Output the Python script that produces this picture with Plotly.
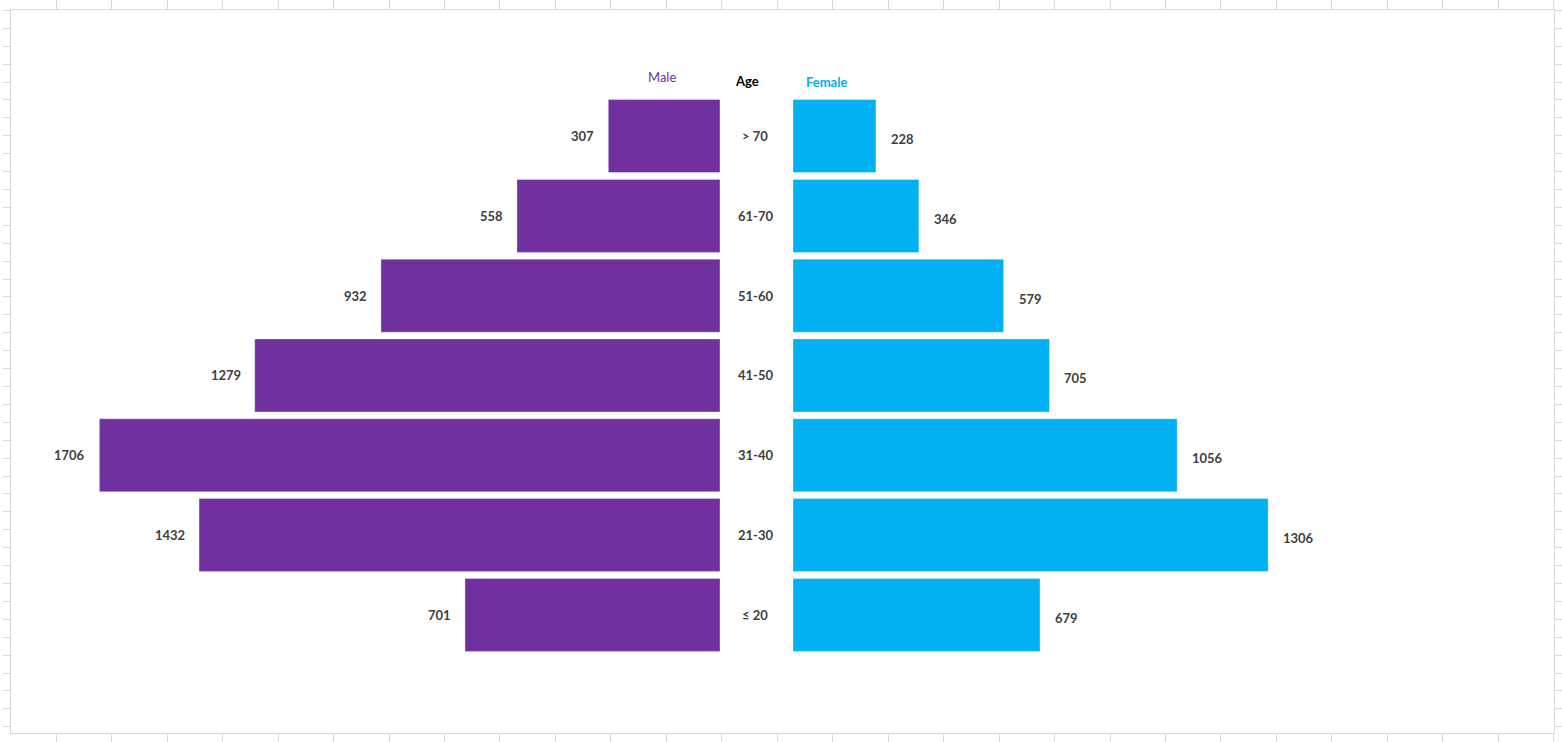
import plotly.graph_objects as go

ages = ["≤ 20", "21-30", "31-40", "41-50", "51-60", "61-70", "> 70"]
male = [701, 1432, 1706, 1279, 932, 558, 307]
female = [679, 1306, 1056, 705, 579, 346, 228]

PURPLE = "#7030A0"
BLUE = "#00B0F0"
TEXT = "#404040"
GRID = "#d9d9d9"
FONT = "Lato"

W, H = 1562, 742
ML, MR, MT, MB = 11, 8, 10, 9
PW = W - ML - MR
PH = H - MT - MB

def px_x(p):
    return (p - ML) / PW

def px_y(p):
    return (H - MB - p) / PH

scale = 0.3638  # px per unit
male_zero = 720
female_zero = 793

fig = go.Figure()

fig.add_trace(go.Scatter(x=[None], y=[None], xaxis="x", yaxis="y",
                         showlegend=False, hoverinfo="skip"))

fig.add_trace(go.Bar(y=ages, x=male, orientation="h", xaxis="x2", yaxis="y2",
                     marker=dict(color=PURPLE, line=dict(color="rgba(255,255,255,0.35)", width=1)),
                     showlegend=False, name="Male"))
fig.add_trace(go.Bar(y=ages, x=female, orientation="h", xaxis="x3", yaxis="y2",
                     marker=dict(color=BLUE, line=dict(color="rgba(255,255,255,0.35)", width=1)),
                     showlegend=False, name="Female"))

annotations = []
for a, m, f in zip(ages, male, female):
    annotations.append(dict(x=m, y=a, xref="x2", yref="y2", text=str(m), showarrow=False,
                            xanchor="right", xshift=-12, yanchor="middle",
                            font=dict(family=FONT, size=13, color=TEXT, weight="bold")))
    annotations.append(dict(x=f, y=a, xref="x3", yref="y2", text=str(f), showarrow=False,
                            xanchor="left", xshift=13, yshift=-3, yanchor="middle",
                            font=dict(family=FONT, size=13, color=TEXT, weight="bold")))
    annotations.append(dict(x=px_x(755), y=a, xref="paper", yref="y2", text=a, showarrow=False,
                            xanchor="center", yanchor="middle",
                            font=dict(family=FONT, size=13, color=TEXT, weight="bold")))

annotations += [
    dict(x=px_x(662), y=px_y(77), xref="paper", yref="paper", text="Male", showarrow=False,
         xanchor="center", yanchor="middle",
         font=dict(family=FONT, size=13, color=PURPLE)),
    dict(x=px_x(747), y=px_y(81), xref="paper", yref="paper", text="Age", showarrow=False,
         xanchor="center", yanchor="middle",
         font=dict(family=FONT, size=13, color="#000000", weight="bold")),
    dict(x=px_x(826), y=px_y(82), xref="paper", yref="paper", text="Female", showarrow=False,
         xanchor="center", yanchor="middle",
         font=dict(family=FONT, size=13, color=BLUE, weight="bold")),
]

frame_common = dict(showline=True, linecolor=GRID, linewidth=1, mirror="allticks",
                    ticks="outside", tickcolor=GRID, tickwidth=1,
                    showticklabels=False, showgrid=False, zeroline=False, fixedrange=True)

fig.update_layout(
    width=W, height=H,
    margin=dict(l=ML, r=MR, t=MT, b=MB, autoexpand=False),
    paper_bgcolor="white", plot_bgcolor="rgba(0,0,0,0)",
    bargap=0.085,
    font=dict(family=FONT),
    xaxis=dict(range=[ML, W - MR], tick0=56.3, dtick=55.46, ticklen=9,
               domain=[0, 1], anchor="y", **frame_common),
    yaxis=dict(range=[H - MB, MT], tick0=28.3, dtick=17.91, ticklen=7,
               domain=[0, 1], anchor="x", **frame_common),
    xaxis2=dict(domain=[0, px_x(male_zero)], range=[(male_zero - ML) / scale, 0],
                visible=False, anchor="y2", fixedrange=True),
    xaxis3=dict(domain=[px_x(female_zero), 1], range=[0, (W - MR - female_zero) / scale],
                visible=False, anchor="y2", fixedrange=True),
    yaxis2=dict(domain=[0, 1], type="category", categoryorder="array", categoryarray=ages,
                range=[-1.48, 7.58], visible=False, anchor="x2", fixedrange=True),
    annotations=annotations,
)

fig.write_html("out.html", config={"displayModeBar": False},
               post_script="document.body.style.margin='0';document.body.style.overflow='hidden';")
